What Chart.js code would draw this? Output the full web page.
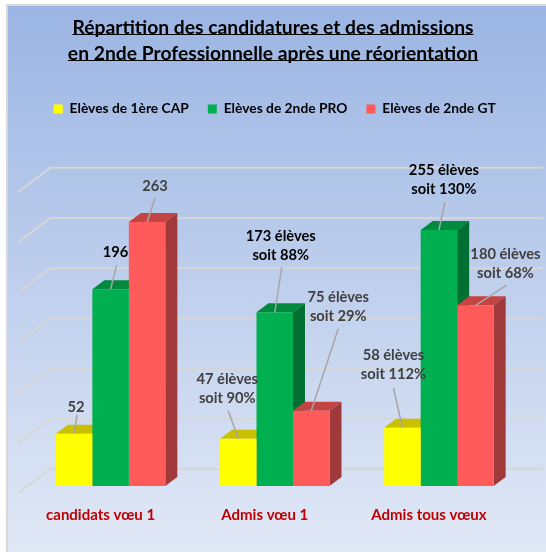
<!DOCTYPE html>
<html>
<head>
<meta charset="utf-8">
<script src="https://cdn.jsdelivr.net/npm/chart.js@4"></script>
<style>
  html, body { margin: 0; background: #fff; }
  #panel { position: absolute; left: 6px; top: 4px; width: 540px; height: 548px; border-left: 2px solid #d9d9d9; border-top: 2px solid #d9d9d9; box-sizing: border-box; background: linear-gradient(#9bb5e3, #e1e8f6); }
  canvas { position: absolute; left: 0; top: 0; }
</style>
</head>
<body>
<div id="panel"></div>
<canvas id="chart" width="546" height="552"></canvas>
<script>
const titleLines = ["Répartition des candidatures et des admissions", "en 2nde Professionnelle après une réorientation"];
const categories = ["candidats vœu 1", "Admis vœu 1", "Admis tous vœux"];
const seriesNames = ["Elèves de 1ère CAP", "Elèves de 2nde PRO", "Elèves de 2nde GT"];
const capValues = [52, 47, 58];
const proValues = [196, 173, 255];
const gtValues = [263, 75, 180];
const capLabels = [["52"], ["47 élèves", "soit 90%"], ["58 élèves", "soit 112%"]];
const proLabels = [["196"], ["173 élèves", "soit 88%"], ["255 élèves", "soit 130%"]];
const gtLabels = [["263"], ["75 élèves", "soit 29%"], ["180 élèves", "soit 68%"]];

// label placement relative to top centre of each bar: text dx, text dy of first line, leader start dx, dy
const capPlace = [[2, -27, 3, -19], [-11, -60, -10, -28], [-9, -73, -9, -40]];
const proPlace = [[5, -37, 6, -24], [6, -76, 7, -45], [5, -60, 6, -28]];
const gtPlace = [[8, -36, 8, -24], [27, -113, 27, -82], [30, -51, 31, -20]];

const colors = ["#ffff00", "#00b050", "#ff5b5b"];
const topColors = ["#c8c000", "#008a3e", "#c44444"];
const sideColors = ["#a8a000", "#007032", "#a03a3a"];
const textColors = [["#404040", "#404040", "#404040"], ["#000", "#000", "#000"], ["#404040", "#404040", "#404040"]];

const depthX = 12, depthY = 9;
const wallX = 22, wallY = 17, floorX = 10, floorY = 7;
const labelFont = "bold 14.7px Lato";

// fake 3D: walls first, then side and top faces of the bars under the flat fronts
const walls = {
  id: "walls",
  beforeDatasetsDraw(c) {
    const ctx = c.ctx, y = c.scales.y, area = c.chartArea;
    ctx.save();
    ctx.strokeStyle = "#d6d6d6";
    ctx.lineWidth = 2;
    y.ticks.forEach(t => {
      const py = y.getPixelForValue(t.value);
      ctx.beginPath();
      ctx.moveTo(area.left - floorX, py + floorY);
      ctx.lineTo(area.left + wallX, py - wallY);
      ctx.lineTo(area.right + wallX, py - wallY);
      ctx.stroke();
    });
    c.data.datasets.forEach((ds, i) => {
      c.getDatasetMeta(i).data.forEach(bar => {
        const l = bar.x - bar.width / 2, r = bar.x + bar.width / 2;
        ctx.fillStyle = topColors[i];
        ctx.beginPath();
        ctx.moveTo(l, bar.y);
        ctx.lineTo(l + depthX, bar.y - depthY);
        ctx.lineTo(r + depthX, bar.y - depthY);
        ctx.lineTo(r, bar.y);
        ctx.fill();
        ctx.fillStyle = sideColors[i];
        ctx.beginPath();
        ctx.moveTo(r, bar.y);
        ctx.lineTo(r + depthX, bar.y - depthY);
        ctx.lineTo(r + depthX, bar.base - depthY);
        ctx.lineTo(r, bar.base);
        ctx.fill();
      });
    });
    ctx.restore();
  }
};

const barLabels = {
  id: "barLabels",
  afterDatasetsDraw(c) {
    const ctx = c.ctx;
    const texts = [capLabels, proLabels, gtLabels];
    const places = [capPlace, proPlace, gtPlace];
    ctx.save();
    ctx.font = labelFont;
    ctx.textAlign = "center";
    ctx.textBaseline = "middle";
    c.data.datasets.forEach((ds, i) => {
      c.getDatasetMeta(i).data.forEach((bar, j) => {
        const p = places[i][j];
        ctx.strokeStyle = "#a6a6a6";
        ctx.lineWidth = 1.5;
        ctx.beginPath();
        ctx.moveTo(bar.x + p[2], bar.y + p[3]);
        ctx.lineTo(bar.x, bar.y);
        ctx.stroke();
        ctx.fillStyle = textColors[i][j];
        texts[i][j].forEach((line, k) => {
          ctx.fillText(line, bar.x + p[0], bar.y + p[1] + k * 19);
        });
      });
    });
    ctx.restore();
  }
};

// Chart.js title has no underline option
const titleUnderline = {
  id: "titleUnderline",
  afterDraw(c) {
    const ctx = c.ctx, box = c.titleBlock;
    const font = c.options.plugins.title.font;
    ctx.save();
    ctx.font = font.weight + " " + font.size + "px " + font.family;
    ctx.strokeStyle = "#000";
    ctx.lineWidth = 1;
    const mid = (box.left + box.right) / 2;
    titleLines.forEach((line, i) => {
      const w = ctx.measureText(line).width;
      const uy = box.top + 27.5 + i * 26;
      ctx.beginPath();
      ctx.moveTo(mid - w / 2, uy);
      ctx.lineTo(mid + w / 2, uy);
      ctx.stroke();
    });
    ctx.restore();
  }
};

// extra room between the legend and the plot, title centred on the page and not the plot
const legendGap = {
  id: "legendGap",
  beforeInit(c) {
    const fit = c.legend.fit;
    c.legend.fit = function () {
      fit.call(this);
      this.height += 59;
    };
  },
  afterLayout(c) {
    c.titleBlock.left -= 3.5;
  }
};

new Chart(document.getElementById("chart"), {
  type: "bar",
  data: {
    labels: categories,
    datasets: [
      { label: seriesNames[0], data: capValues, backgroundColor: colors[0] },
      { label: seriesNames[1], data: proValues, backgroundColor: colors[1] },
      { label: seriesNames[2], data: gtValues, backgroundColor: colors[2] }
    ]
  },
  options: {
    responsive: false,
    animation: false,
    layout: { padding: { left: 28.5, right: 25, top: 7, bottom: 16 } },
    datasets: { bar: { categoryPercentage: 0.667, barPercentage: 1 } },
    plugins: {
      tooltip: { enabled: false },
      title: {
        display: true,
        text: titleLines,
        color: "#000",
        font: { family: "Lato", size: 19.3, weight: "bold", lineHeight: 26 / 19.3 },
        padding: { top: 8, bottom: 16 }
      },
      legend: {
        display: true,
        labels: {
          color: "#000",
          boxWidth: 9,
          boxHeight: 9,
          padding: 19,
          font: { family: "Lato", size: 13.8, weight: "bold" }
        }
      }
    },
    scales: {
      x: {
        grid: { display: false },
        border: { display: false },
        ticks: { color: "#c00000", padding: 12, labelOffset: -10, font: { family: "Lato", size: 15, weight: "bold" } }
      },
      y: {
        display: true,
        min: 0,
        max: 300,
        afterFit(scale) { scale.width = 0; },
        grid: { display: false },
        border: { display: false },
        ticks: { display: false, stepSize: 50 }
      }
    }
  },
  plugins: [walls, barLabels, titleUnderline, legendGap]
});
</script>
</body>
</html>
